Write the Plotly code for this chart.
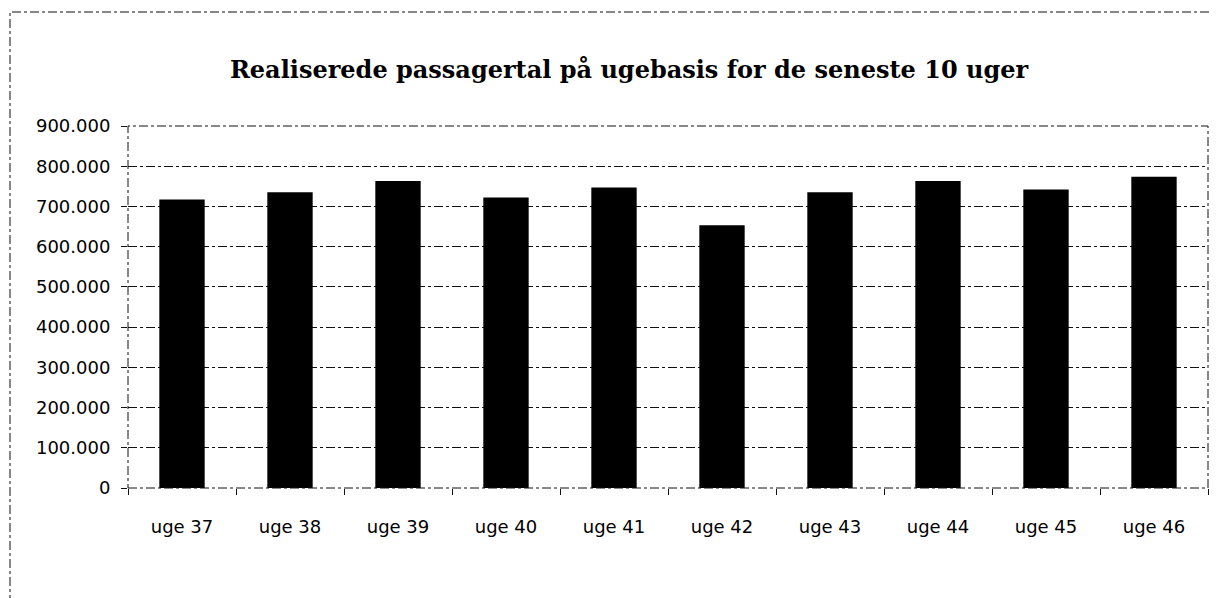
import plotly.graph_objects as go

weeks = ["uge 37", "uge 38", "uge 39", "uge 40", "uge 41", "uge 42", "uge 43", "uge 44", "uge 45", "uge 46"]
passengers = [717000, 735000, 763000, 722000, 747000, 653000, 735000, 763000, 742000, 774000]
y_ticks = [0, 100000, 200000, 300000, 400000, 500000, 600000, 700000, 800000, 900000]
y_labels = ["0", "100.000", "200.000", "300.000", "400.000", "500.000", "600.000", "700.000", "800.000", "900.000"]
title = "Realiserede passagertal på ugebasis for de seneste 10 uger"

# page has an 8px body margin, so the figure is sized to fit the remaining window
OFF = 8
W, H = 1217 - OFF, 598 - OFF
ml, mr = 128 - OFF, W - (1208 - OFF)
mt, mb = 126 - OFF, H - (488 - OFF)
pw = W - ml - mr
ph = H - mt - mb

fig = go.Figure()
fig.add_trace(go.Bar(x=weeks, y=passengers, marker=dict(color="black", line=dict(width=0)), width=0.42))

fig.update_layout(
    width=W, height=H,
    margin=dict(l=ml, r=mr, t=mt, b=mb),
    paper_bgcolor="white", plot_bgcolor="white",
    showlegend=False,
    title=dict(text="<b>" + title + "</b>", x=(629 - OFF) / W, xanchor="center", y=1 - (70 - OFF) / H, yanchor="middle",
               font=dict(family="DejaVu Serif", size=24, color="black")),
    font=dict(family="DejaVu Sans", size=18, color="black"),
)
fig.update_xaxes(showgrid=False, showline=False, ticks="outside", tickson="boundaries", ticklen=6,
                 tickcolor="#111", ticklabelstandoff=26, tickfont=dict(size=18))
fig.update_yaxes(range=[0, 900000], tickvals=y_ticks, ticktext=y_labels, showgrid=True,
                 gridcolor="#111", gridwidth=1, griddash="dashdot", zeroline=False, showline=False,
                 ticks="outside", ticklen=6, tickcolor="#111", ticklabelstandoff=7, tickfont=dict(size=18))

# plot area frame (dashed)
fig.add_shape(type="rect", xref="paper", yref="paper", x0=0, x1=1, y0=0, y1=1,
              line=dict(color="#111", width=1, dash="dashdot"), layer="above")
# outer chart frame (dashed)
fig.add_shape(type="rect", xref="paper", yref="paper",
              x0=(10 - OFF - ml) / pw, x1=(1235 - OFF - ml) / pw,
              y0=(H - mb - (615 - OFF)) / ph, y1=(H - mb - (12 - OFF)) / ph,
              line=dict(color="#111", width=1, dash="dashdot"), layer="above")

fig.write_html("out.html")
